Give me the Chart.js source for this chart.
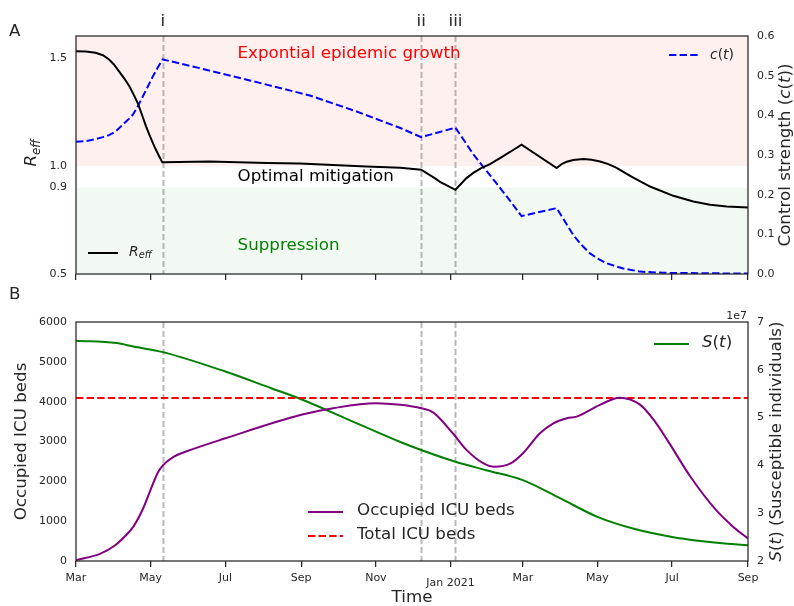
<!DOCTYPE html>
<html>
<head>
<meta charset="utf-8">
<script src="https://cdn.jsdelivr.net/npm/chart.js@4/dist/chart.umd.min.js"></script>
<style>
  html, body { margin: 0; padding: 0; background: #ffffff; overflow: hidden; }
  #wrap { position: relative; width: 794px; height: 606px; }
  canvas { position: absolute; left: 0; display: block; }
  #cA { top: 0; }
  #cB { top: 300px; }
</style>
</head>
<body>
<div id="wrap">
  <canvas id="cA" width="794" height="300"></canvas>
  <canvas id="cB" width="794" height="306"></canvas>
</div>
<script>
// ---------------- data (x = days since 1 Mar 2020) ----------------
const tickDays   = [0, 61, 122, 184, 245, 306, 365, 426, 487, 549];
const tickLabels = ["Mar", "May", "Jul", "Sep", "Nov", "Jan 2021", "Mar", "May", "Jul", "Sep"];

const eventDays   = [71, 282, 310];
const eventLabels = ["i", "ii", "iii"];

const reffTicks = [0.5, 0.9, 1.0, 1.5];

const reffDays   = [0, 8, 16, 22, 27, 31, 35, 39.5, 43.6, 46.8, 50.4, 53.6, 57.2, 60.5, 64, 67.3, 70.5,
                    109, 156, 183, 237, 265, 282, 294.6, 297.4, 310, 319, 324.6, 331.4, 338.2, 346.4, 354.6, 364,
                    392.7, 396.8, 400.9, 406.3, 414.5, 421.3, 428.1, 434.9, 441.7, 449.9, 455.3, 469, 488, 504.3, 518, 531.6, 549];
const reffValues = [1.531, 1.530, 1.524, 1.513, 1.493, 1.470, 1.439, 1.405, 1.369, 1.334, 1.292, 1.242, 1.184, 1.137, 1.091, 1.052, 1.017,
                    1.021, 1.014, 1.012, 0.998, 0.992, 0.983, 0.938, 0.926, 0.890, 0.944, 0.968, 0.991, 1.009, 1.037, 1.065, 1.099,
                    0.991, 1.009, 1.020, 1.028, 1.032, 1.029, 1.021, 1.009, 0.991, 0.964, 0.946, 0.905, 0.862, 0.836, 0.821, 0.813, 0.808];

const ctrlDays   = [0, 8, 16, 22, 27, 32.7, 38, 42.2, 46.3, 50.4, 54.5, 58.6, 62.6, 66.7, 70.8,
                    101, 142, 191, 228, 265, 282, 310, 325, 338, 352, 364,
                    392.7, 399.5, 406.3, 413.1, 419.9, 426.7, 433.6, 440.4, 447.1, 460.8, 480, 510, 549];
const ctrlValues = [0.3335, 0.335, 0.340, 0.345, 0.350, 0.360, 0.376, 0.388, 0.401, 0.422, 0.447, 0.472, 0.497, 0.520, 0.541,
                    0.519, 0.488, 0.450, 0.411, 0.368, 0.345, 0.369, 0.300, 0.250, 0.195, 0.146,
                    0.166, 0.132, 0.098, 0.073, 0.052, 0.038, 0.027, 0.020, 0.014, 0.006, 0.003, 0.002, 0.001];

const icuDays   = [0, 20, 32, 40, 47, 55, 63, 67, 71, 80, 91, 122, 184, 210, 245, 265, 282, 292, 308, 319, 333, 342, 355, 365, 379, 390, 401, 409, 428, 444, 461, 472, 483, 502, 523, 537, 549];
const icuValues = [20, 186, 395, 620, 870, 1330, 1950, 2230, 2400, 2620, 2760, 3080, 3670, 3835, 3960, 3920, 3835, 3725, 3200, 2790, 2450, 2365, 2450, 2700, 3205, 3458, 3584, 3625, 3920, 4100, 3920, 3541, 3040, 2115, 1276, 856, 565];

const totalIcuBeds = 4090;

const susDays   = [0, 33, 47, 71, 122, 160, 184, 230, 265, 282, 310, 335, 365, 395, 426, 455, 487, 510, 530, 549];
const susValues = [6.607e7, 6.559e7, 6.487e7, 6.370e7, 5.963e7, 5.610e7, 5.385e7, 4.874e7, 4.489e7, 4.321e7, 4.076e7, 3.900e7, 3.692e7, 3.320e7, 2.923e7, 2.679e7, 2.503e7, 2.419e7, 2.365e7, 2.329e7];

// ---------------- helpers ----------------
const FONT = '"DejaVu Sans", "Liberation Sans", sans-serif';
const TXT = '#262626';
const zip = (xs, ys) => xs.map((x, i) => ({ x: x, y: ys[i] }));

function drawRich(ctx, parts, x, y, size, align, rot) {
  ctx.save();
  ctx.translate(x, y);
  ctx.rotate(rot || 0);
  const fonts = parts.map(p => p[1] === 's' ? `italic ${size * 0.7}px ${FONT}` :
                              (p[1] === 'i' ? `italic ${size}px ${FONT}` : `${size}px ${FONT}`));
  const widths = parts.map((p, k) => { ctx.font = fonts[k]; return ctx.measureText(p[0]).width; });
  const total = widths.reduce((a, b) => a + b, 0);
  let cx = align === 'center' ? -total / 2 : (align === 'right' ? -total : 0);
  ctx.textBaseline = 'middle';
  ctx.textAlign = 'left';
  parts.forEach((p, k) => {
    ctx.font = fonts[k];
    ctx.fillText(p[0], cx, p[1] === 's' ? size * 0.28 : 0);
    cx += widths[k];
  });
  ctx.restore();
}

function legendLine(ctx, x1, x2, y, ds) {
  ctx.save();
  ctx.strokeStyle = ds.borderColor;
  ctx.lineWidth = ds.borderWidth;
  ctx.setLineDash(ds.borderDash || []);
  ctx.beginPath();
  ctx.moveTo(x1, y);
  ctx.lineTo(x2, y);
  ctx.stroke();
  ctx.restore();
}

function eventLines(chart) {
  const ctx = chart.ctx, a = chart.chartArea, xs = chart.scales.x;
  ctx.save();
  ctx.strokeStyle = 'rgba(140,140,140,0.62)';
  ctx.lineWidth = 2;
  ctx.setLineDash([6, 3]);
  eventDays.forEach(d => {
    const px = Math.round(xs.getPixelForValue(d)) + 0.5;
    ctx.beginPath();
    ctx.moveTo(px, a.top);
    ctx.lineTo(px, a.bottom);
    ctx.stroke();
  });
  ctx.restore();
}

function frame(chart) {
  const ctx = chart.ctx, a = chart.chartArea;
  ctx.save();
  ctx.strokeStyle = TXT;
  ctx.lineWidth = 1.25;
  ctx.strokeRect(a.left, a.top, a.right - a.left, a.bottom - a.top);
  ctx.restore();
}

const tickFont = { family: FONT, size: 11 };

function xScale(showLabels, height) {
  return {
    type: 'linear', min: 0, max: 549,
    afterBuildTicks: s => { s.ticks = tickDays.map(v => ({ value: v })); },
    afterFit: s => { s.height = height; },
    ticks: {
      autoSkip: false, maxRotation: 0, color: TXT, padding: 5,
      font: c => ({ family: FONT, size: 11, lineHeight: (showLabels && c.index === 5) ? 2.1 : 1.2 }),
      callback: (v, i) => showLabels ? tickLabels[i] : ''
    },
    grid: { drawOnChartArea: false, drawTicks: true, tickLength: 6, color: TXT, lineWidth: 1.25 },
    border: { display: false }
  };
}

function yScale(pos, min, max, width, ticks) {
  return {
    type: 'linear', position: pos, min: min, max: max,
    afterFit: s => { s.width = width; },
    grid: { display: false, drawTicks: false, drawOnChartArea: false },
    border: { display: false },
    ticks: Object.assign({ color: TXT, font: tickFont, padding: 9 }, ticks)
  };
}

// ---------------- panel A ----------------
const panelA = {
  id: 'panelA',
  beforeDatasetsDraw(chart) {
    const ctx = chart.ctx, a = chart.chartArea, y = chart.scales.yL;
    ctx.save();
    ctx.beginPath(); ctx.rect(a.left, a.top, a.right - a.left, a.bottom - a.top); ctx.clip();
    ctx.fillStyle = 'rgba(255,0,0,0.06)';
    const y1 = y.getPixelForValue(1.0);
    ctx.fillRect(a.left, a.top, a.right - a.left, y1 - a.top);
    ctx.fillStyle = 'rgba(0,128,0,0.05)';
    const y09 = y.getPixelForValue(0.9), y05 = y.getPixelForValue(0.5);
    ctx.fillRect(a.left, y09, a.right - a.left, y05 - y09);
    ctx.restore();
    eventLines(chart);
  },
  afterDraw(chart) {
    const ctx = chart.ctx, a = chart.chartArea, xs = chart.scales.x, y = chart.scales.yL;
    frame(chart);
    ctx.save();
    ctx.textBaseline = 'middle';
    ctx.textAlign = 'left';
    ctx.font = `16.7px ${FONT}`;
    const tx = xs.getPixelForValue(132);
    ctx.fillStyle = '#ff0000'; ctx.fillText('Expontial epidemic growth', tx, y.getPixelForValue(1.52));
    ctx.fillStyle = '#000000'; ctx.fillText('Optimal mitigation', tx, y.getPixelForValue(0.952));
    ctx.fillStyle = '#008000'; ctx.fillText('Suppression', tx, y.getPixelForValue(0.632));
    // event labels
    ctx.fillStyle = TXT;
    ctx.textAlign = 'center';
    ctx.textBaseline = 'alphabetic';
    eventDays.forEach((d, k) => ctx.fillText(eventLabels[k], xs.getPixelForValue(d), 26));
    // panel letters
    ctx.textAlign = 'left';
    ctx.fillText('A', 9, 36);
    ctx.fillText('B', 9, 299);
    ctx.restore();
    // axis titles
    ctx.fillStyle = TXT;
    drawRich(ctx, [['R', 'i'], ['eff', 's']], 32, (a.top + a.bottom) / 2 - 2, 16.7, 'center', -Math.PI / 2);
    drawRich(ctx, [['Control strength (', 'n'], ['c', 'i'], ['(', 'n'], ['t', 'i'], ['))', 'n']], 786, (a.top + a.bottom) / 2, 16.7, 'center', -Math.PI / 2);
    // legends
    const ds = chart.data.datasets;
    legendLine(ctx, 88, 118, 253, ds[0]);
    ctx.fillStyle = TXT;
    drawRich(ctx, [['R', 'i'], ['eff', 's']], 129, 252, 13.9, 'left', 0);
    legendLine(ctx, 669, 700, 55, ds[1]);
    ctx.fillStyle = TXT;
    drawRich(ctx, [['c', 'i'], ['(', 'n'], ['t', 'i'], [')', 'n']], 710, 55, 13.9, 'left', 0);
  }
};

new Chart(document.getElementById('cA'), {
  type: 'line',
  data: {
    datasets: [
      { label: 'R_eff', data: zip(reffDays, reffValues), yAxisID: 'yL', borderColor: '#000000', borderWidth: 2, tension: 0, pointRadius: 0, fill: false },
      { label: 'c(t)', data: zip(ctrlDays, ctrlValues), yAxisID: 'yR', borderColor: '#0000ff', borderWidth: 2, borderDash: [7.4, 3.2], tension: 0, pointRadius: 0, fill: false }
    ]
  },
  options: {
    responsive: false, animation: false, devicePixelRatio: 1,
    layout: { padding: { top: 36, left: 0, right: 0, bottom: 0 } },
    plugins: { legend: { display: false }, tooltip: { enabled: false } },
    scales: {
      x: xScale(false, 26),
      yL: Object.assign(yScale('left', 0.5, 1.602, 76, { callback: v => Number(v).toFixed(1) }), {
        afterBuildTicks: s => { s.ticks = reffTicks.map(v => ({ value: v })); }
      }),
      yR: yScale('right', 0, 0.6, 46, { stepSize: 0.1, callback: v => Number(v).toFixed(1) })
    }
  },
  plugins: [panelA]
});

// ---------------- panel B ----------------
const panelB = {
  id: 'panelB',
  beforeDatasetsDraw(chart) { eventLines(chart); },
  afterDraw(chart) {
    const ctx = chart.ctx, a = chart.chartArea;
    frame(chart);
    ctx.save();
    ctx.fillStyle = TXT;
    ctx.font = `16.7px ${FONT}`;
    ctx.textAlign = 'center';
    ctx.textBaseline = 'middle';
    ctx.fillText('Time', (a.left + a.right) / 2, 298);
    ctx.font = `11px ${FONT}`;
    ctx.textAlign = 'right';
    ctx.textBaseline = 'alphabetic';
    ctx.fillText('1e7', a.right - 1, a.top - 3);
    ctx.restore();
    ctx.fillStyle = TXT;
    drawRich(ctx, [['Occupied ICU beds', 'n']], 22, (a.top + a.bottom) / 2, 16.7, 'center', -Math.PI / 2);
    drawRich(ctx, [['S', 'i'], ['(', 'n'], ['t', 'i'], [') (Susceptible individuals)', 'n']], 777, (a.top + a.bottom) / 2, 16.7, 'center', -Math.PI / 2);
    const ds = chart.data.datasets;
    legendLine(ctx, 654, 689, 44, ds[2]);
    ctx.fillStyle = TXT;
    drawRich(ctx, [['S', 'i'], ['(', 'n'], ['t', 'i'], [')', 'n']], 702, 43, 16.7, 'left', 0);
    legendLine(ctx, 308, 343, 212, ds[0]);
    legendLine(ctx, 308, 343, 236, ds[1]);
    ctx.fillStyle = TXT;
    drawRich(ctx, [['Occupied ICU beds', 'n']], 357, 211, 16.7, 'left', 0);
    drawRich(ctx, [['Total ICU beds', 'n']], 357, 235, 16.7, 'left', 0);
  }
};

new Chart(document.getElementById('cB'), {
  type: 'line',
  data: {
    datasets: [
      { label: 'Occupied ICU beds', data: zip(icuDays, icuValues), yAxisID: 'yL', borderColor: '#800080', borderWidth: 2, cubicInterpolationMode: 'monotone', pointRadius: 0, fill: false },
      { label: 'Total ICU beds', data: [{ x: 0, y: totalIcuBeds }, { x: 549, y: totalIcuBeds }], yAxisID: 'yL', borderColor: '#ff0000', borderWidth: 2, borderDash: [7.4, 3.2], tension: 0, pointRadius: 0, fill: false },
      { label: 'S(t)', data: zip(susDays, susValues), yAxisID: 'yR', borderColor: '#008000', borderWidth: 2, cubicInterpolationMode: 'monotone', pointRadius: 0, fill: false }
    ]
  },
  options: {
    responsive: false, animation: false, devicePixelRatio: 1,
    layout: { padding: { top: 22, left: 0, right: 0, bottom: 0 } },
    plugins: { legend: { display: false }, tooltip: { enabled: false } },
    scales: {
      x: xScale(true, 45),
      yL: yScale('left', 0, 6000, 76, { stepSize: 1000, callback: v => String(Math.round(v)) }),
      yR: yScale('right', 2e7, 7e7, 46, { stepSize: 1e7, callback: v => String(Math.round(v / 1e7)) })
    }
  },
  plugins: [panelB]
});
</script>
</body>
</html>
